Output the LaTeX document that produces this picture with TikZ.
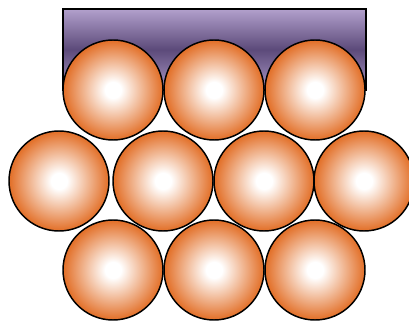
\documentclass[tikz,border=0pt]{standalone}
\usepackage{xcolor}
\usepackage{tikz}
\usetikzlibrary{positioning,calc}

\definecolor{ballorange}{RGB}{226,110,38}
\definecolor{traytop}{RGB}{178,160,204}
\definecolor{traymid}{RGB}{92,74,122}
\definecolor{traybot}{RGB}{168,150,196}
\pgfdeclareradialshading{ballshade}{\pgfpoint{0bp}{0bp}}{%
  color(0bp)=(white); color(4bp)=(white); color(25bp)=(ballorange); color(50bp)=(ballorange)}
\pgfdeclareverticalshading{trayshade}{100bp}{%
  color(0bp)=(traybot); color(25bp)=(traybot); color(50bp)=(traymid); color(75bp)=(traytop); color(100bp)=(traytop)}

\begin{document}
\begin{tikzpicture}[
  x=0.75pt,y=-0.75pt,
  ball/.style={circle,draw=black,line width=1.1pt,minimum size=75pt,inner sep=0pt,shading=ballshade},
  tray/.style={draw=black,line width=1.1pt,shading=trayshade}
]
\useasboundingbox (0,0) rectangle (409,323);
% tray behind the top row
\draw[tray] (63,9) rectangle (366,90);
% top row
\node[ball] (t1) at (113,90) {};
\node[ball] (t2) at (214,90) {};
\node[ball] (t3) at (315,90) {};
% middle row
\node[ball] (m1) at (59,181) {};
\node[ball] (m2) at (163,181) {};
\node[ball] (m3) at (264,181) {};
\node[ball] (m4) at (364,181) {};
% bottom row
\node[ball] (b1) at (113,270) {};
\node[ball] (b2) at (214,270) {};
\node[ball] (b3) at (315,270) {};
\end{tikzpicture}
\end{document}
